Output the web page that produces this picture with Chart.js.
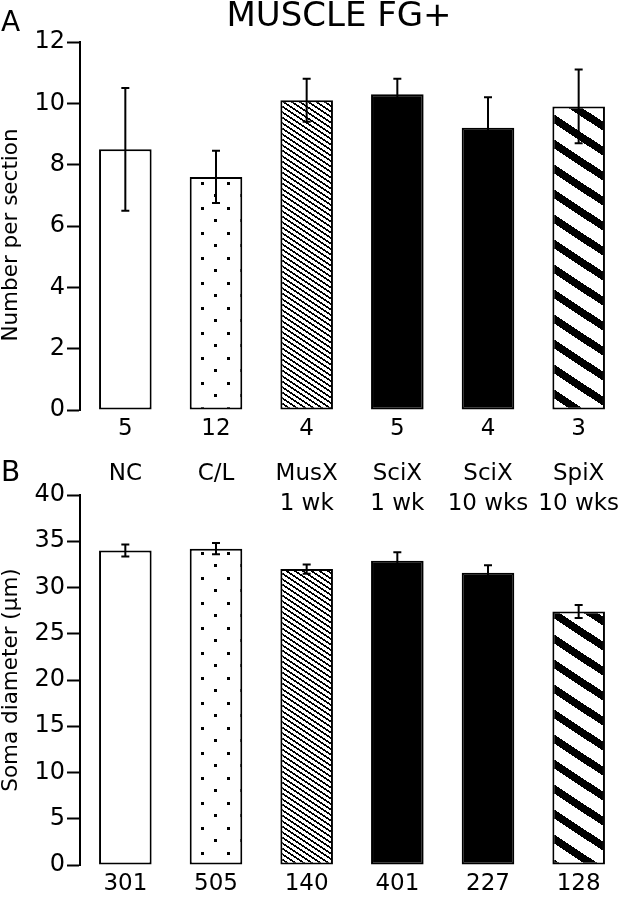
<!DOCTYPE html>
<html>
<head>
<meta charset="utf-8">
<script src="https://cdn.jsdelivr.net/npm/chart.js@4"></script>
<style>
  body { margin: 0; background: #fff; }
  .panel { position: absolute; left: 0; }
  #panel-a { top: 0; }
  #panel-b { top: 445px; }
</style>
</head>
<body>
<canvas id="panel-a" class="panel" width="625" height="445"></canvas>
<canvas id="panel-b" class="panel" width="625" height="454"></canvas>
<script>
// ─── Data ───
const GROUPS     = [['NC'], ['C/L'], ['MusX', '1 wk'], ['SciX', '1 wk'], ['SciX', '10 wks'], ['SpiX', '10 wks']];
const N_SECTIONS = ['5', '12', '4', '5', '4', '3'];
const COUNT_MEAN = [8.5, 7.6, 10.1, 10.3, 9.2, 9.9];
const COUNT_ERR  = [2.0, 0.85, 0.7, 0.5, 1.0, 1.2];
const N_CELLS    = ['301', '505', '140', '401', '227', '128'];
const SOMA_MEAN  = [34.0, 34.2, 32.0, 32.9, 31.6, 27.4];
const SOMA_ERR   = [0.65, 0.6, 0.5, 0.9, 0.8, 0.7];

const FONT = "'DejaVu Sans', sans-serif";
Chart.defaults.font.family = FONT;
Chart.defaults.color = '#000';

// ─── Fill patterns ───
function stripeTile(tw, th, period, slope, thick) {
  const c = document.createElement('canvas');
  c.width = tw; c.height = th;
  const cx = c.getContext('2d');
  const img = cx.createImageData(tw, th);
  for (let y = 0; y < th; y++) {
    for (let x = 0; x < tw; x++) {
      const d = (((y + 0.5 - slope * (x + 0.5)) % period) + period) % period;
      const v = d < thick ? 0 : 255;
      const k = (y * tw + x) * 4;
      img.data[k] = img.data[k+1] = img.data[k+2] = v;
      img.data[k+3] = 255;
    }
  }
  cx.putImageData(img, 0, 0);
  return c;
}

function dotTile() {
  const c = document.createElement('canvas');
  c.width = 26; c.height = 25;
  const cx = c.getContext('2d');
  cx.fillStyle = '#fff'; cx.fillRect(0, 0, 26, 25);
  cx.fillStyle = '#000';
  cx.fillRect(19, 7, 3, 3);
  cx.fillRect(6, 19, 3, 3);
  return c;
}

function barFills(ctx) {
  return [
    '#fff',
    ctx.createPattern(dotTile(), 'repeat'),
    ctx.createPattern(stripeTile(33, 22, 5.5, 2/3, 2), 'repeat'),
    '#000',
    '#000',
    ctx.createPattern(stripeTile(38, 25, 25, 25/38, 9), 'repeat'),
  ];
}

// ─── Plugins ───
const errorBars = {
  id: 'errorBars',
  afterDatasetsDraw(chart, args, opts) {
    const { ctx, scales: { x, y } } = chart;
    const means = chart.data.datasets[0].data;
    ctx.save();
    ctx.strokeStyle = '#000';
    ctx.lineWidth = 2;
    means.forEach((m, i) => {
      const e = opts.errors[i];
      const px = x.getPixelForValue(i);
      const top = y.getPixelForValue(m + e);
      const bot = y.getPixelForValue(m - e);
      ctx.beginPath();
      ctx.moveTo(px, top); ctx.lineTo(px, bot);
      ctx.moveTo(px - 4, top); ctx.lineTo(px + 4, top);
      ctx.moveTo(px - 4, bot); ctx.lineTo(px + 4, bot);
      ctx.stroke();
    });
    ctx.restore();
  }
};

const panelText = {
  id: 'panelText',
  afterDraw(chart, args, o) {
    const ctx = chart.ctx;
    const x = chart.scales.x;
    ctx.save();
    ctx.fillStyle = '#000';
    ctx.textBaseline = 'middle';

    ctx.font = `28px ${FONT}`;
    ctx.textAlign = 'left';
    ctx.fillText(o.letter, 1, o.letterY);

    if (o.title) {
      ctx.font = `34px ${FONT}`;
      ctx.textAlign = 'center';
      ctx.fillText(o.title, 339, 17);
    }

    if (o.groups) {
      ctx.font = `23px ${FONT}`;
      ctx.textAlign = 'center';
      o.groups.forEach((lines, i) => {
        lines.forEach((t, j) => ctx.fillText(t, x.getPixelForValue(i), o.groupY + j * 30));
      });
    }

    ctx.translate(11, o.yTitleY);
    ctx.rotate(-Math.PI / 2);
    ctx.font = `21.5px ${FONT}`;
    ctx.textAlign = 'center';
    ctx.fillText(o.yTitle, 0, 0);
    ctx.restore();
  }
};

// ─── Panel factory ───
function makePanel(id, cfg) {
  const ctx = document.getElementById(id).getContext('2d');
  return new Chart(ctx, {
    type: 'bar',
    data: {
      labels: cfg.labels,
      datasets: [{
        data: cfg.means,
        backgroundColor: barFills(ctx),
        borderColor: '#000',
        borderWidth: 2,
        borderSkipped: false,
        barPercentage: 0.58,
        categoryPercentage: 1,
      }],
    },
    options: {
      responsive: false,
      animation: false,
      layout: { padding: { top: cfg.top, right: 1, left: 0, bottom: 0 } },
      plugins: {
        legend: { display: false },
        tooltip: { enabled: false },
        errorBars: { errors: cfg.errors },
        panelText: cfg.text,
      },
      scales: {
        x: {
          grid: { display: false, drawTicks: false },
          border: { display: false },
          ticks: { font: { size: 23 }, color: '#000', padding: 5 },
          afterFit: s => { s.height = cfg.xHeight; },
        },
        y: {
          min: 0, max: cfg.max,
          ticks: { stepSize: cfg.step, font: { size: 24 }, color: '#000', padding: 2 },
          grid: { drawOnChartArea: false, drawTicks: true, tickLength: 13, tickWidth: 2, tickColor: '#000', color: '#000' },
          border: { display: true, color: '#000', width: 2 },
          afterFit: s => { s.width = 80; },
        },
      },
    },
    plugins: [errorBars, panelText],
  });
}

makePanel('panel-a', {
  labels: N_SECTIONS, means: COUNT_MEAN, errors: COUNT_ERR,
  max: 12, step: 2, top: 42, xHeight: 35,
  text: { letter: 'A', letterY: 24, title: 'MUSCLE FG+', yTitle: 'Number per section', yTitleY: 235 },
});

makePanel('panel-b', {
  labels: N_CELLS, means: SOMA_MEAN, errors: SOMA_ERR,
  max: 40, step: 5, top: 50, xHeight: 34,
  text: { letter: 'B', letterY: 29, groups: GROUPS, groupY: 29, yTitle: 'Soma diameter (\u03bcm)', yTitleY: 235 },
});
</script>
</body>
</html>
